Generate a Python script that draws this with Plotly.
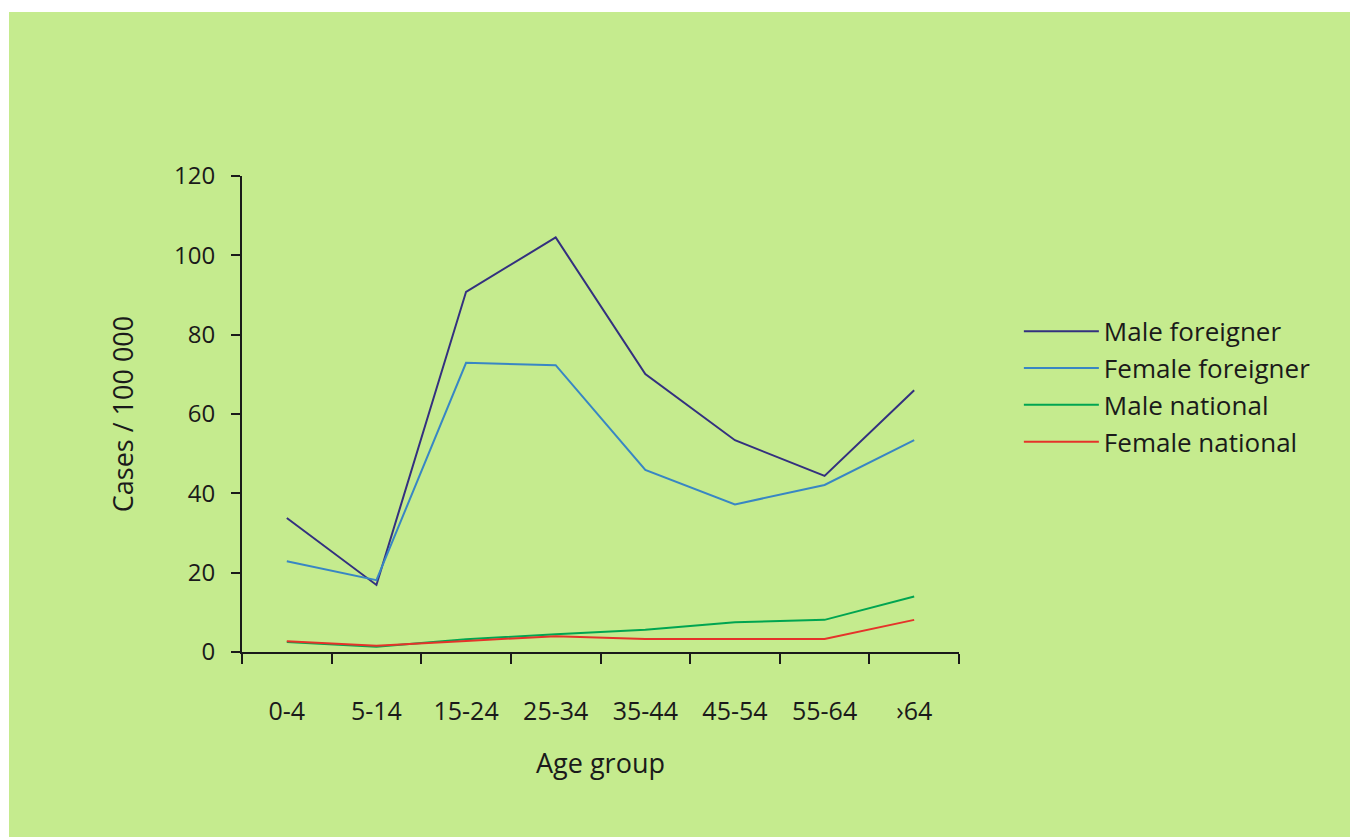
import plotly.graph_objects as go

age_groups = ["0-4", "5-14", "15-24", "25-34", "35-44", "45-54", "55-64", "›64"]
male_foreigner = [33.8, 16.9, 90.8, 104.5, 70.1, 53.4, 44.4, 66.0]
female_foreigner = [22.9, 18.1, 72.9, 72.3, 45.9, 37.2, 42.1, 53.4]
male_national = [2.5, 1.3, 3.2, 4.5, 5.6, 7.5, 8.1, 14.0]
female_national = [2.7, 1.6, 2.8, 4.0, 3.3, 3.3, 3.3, 8.1]
y_ticks = [0, 20, 40, 60, 80, 100, 120]

series = [
    ("Male foreigner", male_foreigner, "#33307f"),
    ("Female foreigner", female_foreigner, "#3886c4"),
    ("Male national", male_national, "#00a551"),
    ("Female national", female_national, "#e5332a"),
]

fig = go.Figure()
for name, vals, col in series:
    fig.add_trace(go.Scatter(x=age_groups, y=vals, name=name, mode="lines",
                             line=dict(color=col, width=2)))

W, H = 1350, 829
L, R, T, B = 234, 399, 168, 185
PW, PH = W - L - R, H - T - B
fig.update_layout(
    width=W, height=H,
    margin=dict(l=L, r=R, t=T, b=B, pad=0),
    paper_bgcolor="white",
    plot_bgcolor="rgba(0,0,0,0)",
    font=dict(family="Open Sans", color="#1a1a1a", size=22),
    showlegend=True,
    legend=dict(x=1.0835, y=0.723, xanchor="left", yanchor="top",
                bgcolor="rgba(0,0,0,0)", font=dict(size=26, family="Open Sans"),
                itemwidth=75, tracegroupgap=0),
    shapes=[dict(type="rect", xref="paper", yref="paper",
                 x0=(1 - L) / PW, x1=(W + 10 - L) / PW,
                 y0=-(B + 10) / PH, y1=(H - 4 - B) / PH,
                 fillcolor="#c5eb8e", line=dict(width=0), layer="below")],
)
fig.update_xaxes(
    type="category", range=[-0.5, 7.5],
    showline=True, linecolor="#1a1a1a", linewidth=2,
    ticks="outside", tickson="boundaries", ticklen=10, tickwidth=2, tickcolor="#1a1a1a",
    showgrid=False, zeroline=False,
    tickfont=dict(size=25), ticklabelstandoff=36,
    title=dict(text="Age group", font=dict(size=27), standoff=28),
)
fig.update_yaxes(
    range=[0, 120], tickvals=y_ticks,
    showline=True, linecolor="#1a1a1a", linewidth=2,
    ticks="outside", ticklen=9, tickwidth=2, tickcolor="#1a1a1a",
    showgrid=False, zeroline=False,
    tickfont=dict(size=24), ticklabelstandoff=11,
    title=dict(text="Cases / 100 000", font=dict(size=27), standoff=33),
)

fig.write_html("out.html")
